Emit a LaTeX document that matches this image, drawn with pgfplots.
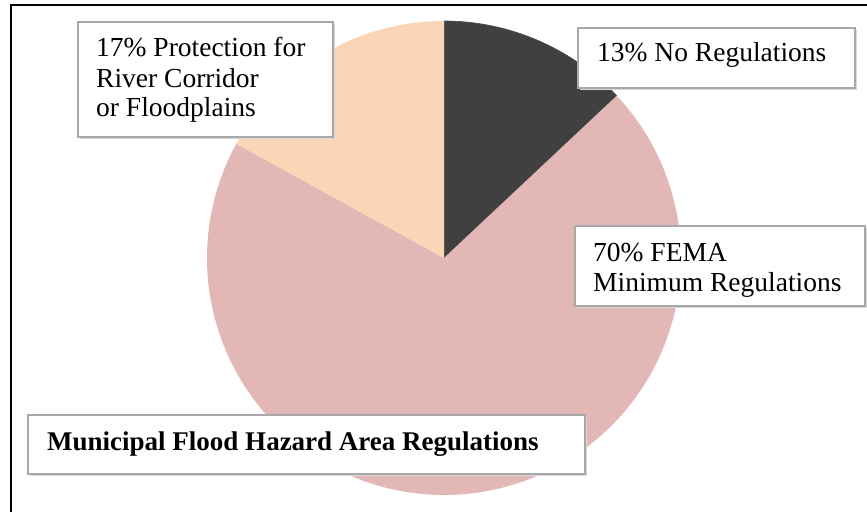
\documentclass[border=0pt]{standalone}
\usepackage{pgfplots}
\pgfplotsset{compat=1.18}
\usepackage{fontspec}
\setmainfont{Liberation Serif}
\definecolor{darkslice}{HTML}{404040}
\definecolor{pinkslice}{HTML}{E4B7B7}
\definecolor{peachslice}{HTML}{FBD5B5}
\definecolor{boxborder}{HTML}{A8A8A8}
\definecolor{boxshadow}{HTML}{D8D8D8}
% slice shares in percent (clockwise from 12 o'clock)
\def\pNo{13}
\def\pFema{70}
\def\pProt{17}
\begin{document}
\begin{tikzpicture}
\useasboundingbox (0pt,0pt) rectangle (867pt,512pt);
\fill[white] (0pt,0pt) rectangle (867pt,512pt);
\begin{axis}[
  at={(444pt,254pt)}, anchor=center,
  scale only axis, width=474pt, height=474pt,
  xmin=-1, xmax=1, ymin=-1, ymax=1,
  hide axis, clip=false,
]
% 13% No Regulations
\addplot[fill=darkslice, draw=black!70, line width=0.6pt, domain={90-3.6*\pNo}:90, samples=60, variable=\t]
  ({cos(t)},{sin(t)}) -- (axis cs:0,0) -- cycle;
% 70% FEMA minimum
\addplot[fill=pinkslice, draw=none, domain={90-3.6*(\pNo+\pFema)}:{90-3.6*\pNo}, samples=200, variable=\t]
  ({cos(t)},{sin(t)}) -- (axis cs:0,0) -- cycle;
% 17% Protection
\addplot[fill=peachslice, draw=none, domain={90-3.6*(\pNo+\pFema+\pProt)}:{90-3.6*(\pNo+\pFema)}, samples=60, variable=\t]
  ({cos(t)},{sin(t)}) -- (axis cs:0,0) -- cycle;
\end{axis}
\begin{scope}[x=1pt,y=1pt]
% frame
\draw[black, line width=2pt] (11,0) -- (11,507) -- (867,507);
% label boxes
\newcommand{\labelbox}[4]{%
  \fill[boxshadow] (#1+2,512-#2-2) rectangle (#3+2,512-#4-2);
  \draw[boxborder, line width=1.5pt, fill=white] (#1,512-#2) rectangle (#3,512-#4);}
\labelbox{78}{22}{333}{137}
\labelbox{578}{28}{855}{88}
\labelbox{575}{226}{865}{306}
\labelbox{28}{415}{585}{474}
\fontsize{27.5}{30}\selectfont
\node[anchor=base west, inner sep=0] at (96,512-57) {17\% Protection for};
\node[anchor=base west, inner sep=0] at (96,512-88) {River Corridor};
\node[anchor=base west, inner sep=0] at (96,512-117) {or Floodplains};
\node[anchor=base west, inner sep=0] at (597,512-62) {13\% No Regulations};
\node[anchor=base west, inner sep=0] at (593,512-261) {70\% FEMA};
\node[anchor=base west, inner sep=0] at (593,512-291) {Minimum Regulations};
\node[anchor=base west, inner sep=0] at (47,512-450) {\fontsize{27}{30}\selectfont\bfseries Municipal Flood Hazard Area Regulations};
\end{scope}
\end{tikzpicture}
\end{document}
